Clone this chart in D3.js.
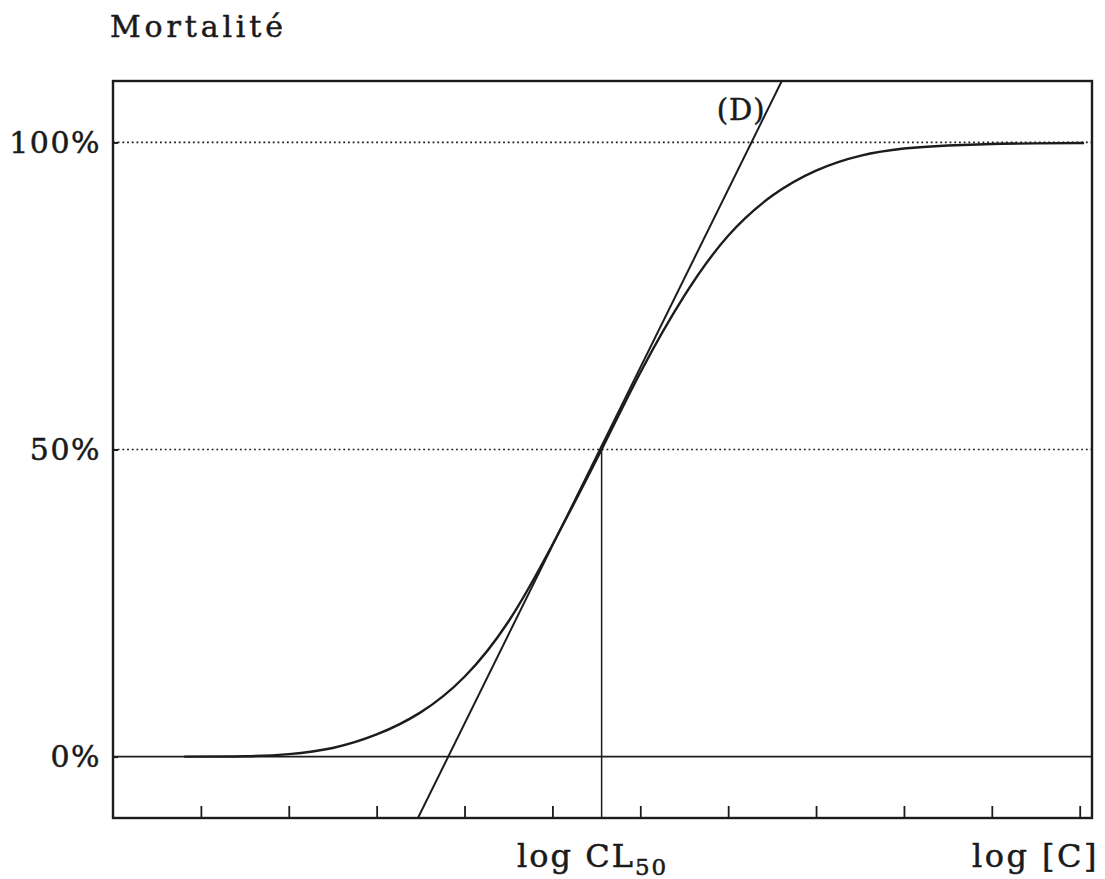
<!DOCTYPE html>
<html>
<head>
<meta charset="utf-8">
<script src="https://cdn.jsdelivr.net/npm/d3@7"></script>
<style>
  html, body { margin: 0; padding: 0; background: #fff; }
  svg text { font-family: "DejaVu Serif", "Liberation Serif", serif; fill: #1a1a1a; stroke: #1a1a1a; stroke-width: 0.5px; }
</style>
</head>
<body>
<svg id="chart" width="1105" height="879"></svg>
<script>
// ---- data ----
const curveX = [0.81, 1.5, 2.0, 2.5, 3.0, 3.5, 4.0, 4.5, 5.0, 5.56, 6.0, 6.5, 7.0, 7.5, 8.0, 8.5, 9.0, 9.5, 10.0, 10.5, 11.05];
const curveY = [0, 0.05, 0.4, 1.4, 3.6, 7.2, 13.0, 22.0, 34.5, 50, 62.5, 75.0, 84.8, 91.3, 95.4, 97.8, 99.0, 99.5, 99.75, 99.85, 99.9];
const tangentX = [3.47, 7.61];
const tangentY = [-10, 110];
const cl50 = 5.56;
const refLevels = [100, 50];
const yTickValues = [0, 50, 100];
const yTickLabels = ["0%", "50%", "100%"];
const xTickValues = [1, 2, 3, 4, 5, 6, 7, 8, 9, 10, 11];
const xDomain = [0, 11.14];
const yDomain = [-10, 110];

// ---- layout ----
const svg = d3.select("#chart");
const mLeft = 113, mRight = 1092, mTop = 81, mBottom = 818;
const x = d3.scaleLinear().domain(xDomain).range([mLeft, mRight]);
const y = d3.scaleLinear().domain(yDomain).range([mBottom, mTop]);
const ink = "#1c1c1c";

svg.append("defs").append("clipPath").attr("id", "plot")
  .append("rect").attr("x", mLeft).attr("y", mTop).attr("width", mRight - mLeft).attr("height", mBottom - mTop);

// dotted reference lines
svg.selectAll("line.ref").data(refLevels).enter().append("line")
  .attr("x1", mLeft).attr("x2", mRight)
  .attr("y1", d => y(d)).attr("y2", d => y(d))
  .attr("stroke", ink).attr("stroke-width", 1.7)
  .attr("stroke-dasharray", "1.8,2.9");

// 0% solid line
svg.append("line")
  .attr("x1", mLeft).attr("x2", mRight)
  .attr("y1", y(0)).attr("y2", y(0))
  .attr("stroke", ink).attr("stroke-width", 1.6);

// vertical line at CL50
svg.append("line")
  .attr("x1", x(cl50)).attr("x2", x(cl50))
  .attr("y1", y(50)).attr("y2", y(yDomain[0]))
  .attr("stroke", ink).attr("stroke-width", 1.5);

// tangent (D)
const tangent = tangentX.map((v, i) => ({ x: v, y: tangentY[i] }));
svg.append("path").datum(tangent)
  .attr("clip-path", "url(#plot)")
  .attr("fill", "none").attr("stroke", ink).attr("stroke-width", 2)
  .attr("d", d3.line().x(d => x(d.x)).y(d => y(d.y)));

// sigmoid curve
const pts = curveX.map((v, i) => ({ x: v, y: curveY[i] }));
svg.append("path").datum(pts)
  .attr("fill", "none").attr("stroke", ink).attr("stroke-width", 2.4)
  .attr("d", d3.line().x(d => x(d.x)).y(d => y(d.y)).curve(d3.curveNatural));

// frame
svg.append("rect")
  .attr("x", mLeft).attr("y", mTop).attr("width", mRight - mLeft).attr("height", mBottom - mTop)
  .attr("fill", "none").attr("stroke", ink).attr("stroke-width", 2.4);

// x axis ticks (inward, no labels)
const xAxis = svg.append("g").attr("transform", `translate(0,${mBottom})`)
  .call(d3.axisBottom(x).tickValues(xTickValues).tickSize(-12).tickFormat(""));
xAxis.select(".domain").remove();
xAxis.selectAll(".tick line").attr("stroke", ink).attr("stroke-width", 1.8);

// y axis labels
const yAxis = svg.append("g").attr("transform", `translate(${mLeft},0)`)
  .call(d3.axisLeft(y).tickValues(yTickValues).tickSizeInner(-5).tickSizeOuter(0).tickPadding(12)
    .tickFormat((d, i) => yTickLabels[i]));
yAxis.select(".domain").remove();
yAxis.selectAll(".tick line").attr("stroke", ink).attr("stroke-width", 2);
yAxis.selectAll(".tick text")
  .style("font-family", '"DejaVu Serif", serif')
  .attr("font-size", 30).attr("letter-spacing", 1.5).attr("fill", ink);

// title
svg.append("text").attr("x", 110).attr("y", 37)
  .attr("font-size", 30).attr("textLength", 173).attr("lengthAdjust", "spacing")
  .text("Mortalité");

// (D) label next to tangent
const labY = 120;
const labDataY = y.invert(labY);
const labDataX = tangentX[0] + (labDataY - tangentY[0]) * (tangentX[1] - tangentX[0]) / (tangentY[1] - tangentY[0]);
svg.append("text").attr("x", x(labDataX) + 3).attr("y", labY)
  .attr("text-anchor", "end").attr("font-size", 29).attr("letter-spacing", 1)
  .text("(D)");

// x labels
const cl = svg.append("text").attr("x", 517).attr("y", 867).attr("font-size", 32).attr("letter-spacing", 2);
cl.append("tspan").text("log CL");
cl.append("tspan").attr("font-size", 23).attr("dy", 8).text("50");

svg.append("text").attr("x", 1099).attr("y", 867).attr("text-anchor", "end")
  .attr("font-size", 32).attr("letter-spacing", 2.5).text("log [C]");
</script>
</body>
</html>
